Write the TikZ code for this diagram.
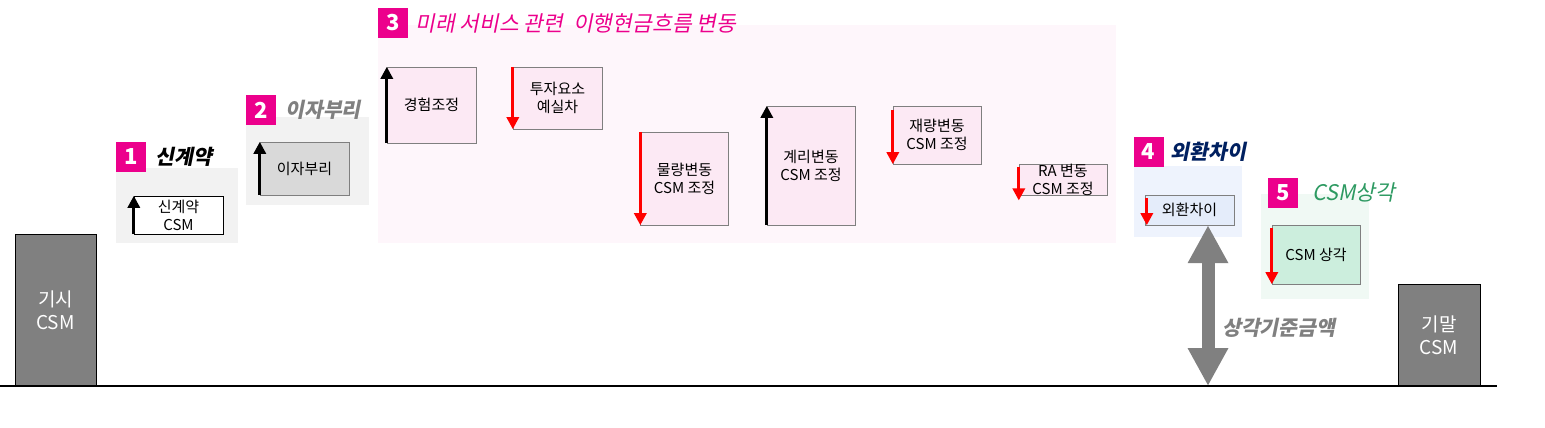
\documentclass[tikz,border=0pt]{standalone}
\usepackage{fontspec}
\setmainfont{Noto Sans CJK KR}
\newfontfamily\slfont[FakeSlant=0.2]{Noto Sans CJK KR}
\usetikzlibrary{arrows.meta,positioning}
\definecolor{Ink}{HTML}{000000}
\definecolor{Mag}{HTML}{EC008C}
\definecolor{Grey}{HTML}{808080}
\definecolor{Frame}{HTML}{7F7F7F}
\definecolor{Navy}{HTML}{002060}
\definecolor{Leaf}{HTML}{2E9A62}
\definecolor{Red}{HTML}{FF0000}
\definecolor{Pale}{HTML}{F2F2F2}
\definecolor{Mid}{HTML}{D9D9D9}
\definecolor{PinkBg}{HTML}{FEF6FB}
\definecolor{Pink}{HTML}{FCE9F4}
\definecolor{BlueBg}{HTML}{EEF3FD}
\definecolor{Blue}{HTML}{E4ECFA}
\definecolor{GreenBg}{HTML}{F0F9F4}
\definecolor{Green}{HTML}{CCEEDD}

\begin{document}
\begin{tikzpicture}[x=1pt,y=-1pt, bg/.style={inner sep=0},
    b/.style={draw=Frame,inner sep=0,align=center,font=\fontsize{15}{18}\selectfont},
    cs/.style={draw=Ink,fill=Grey,text=white,inner sep=0,align=center,font=\fontsize{19}{23}\selectfont},
    sq/.style={fill=Mag,text=white,minimum size=30pt,inner sep=0,font=\fontsize{22}{22}\selectfont\bfseries},
    tl/.style={inner sep=0,font=\slfont\fontsize{21.5}{22}\selectfont},
    tlb/.style={inner sep=0,font=\slfont\bfseries\fontsize{20.5}{21}\selectfont},
    up/.style={-{Triangle[length=12pt,width=12pt]},line width=3pt}, dn/.style={up,Red}]
  \useasboundingbox (0,0) rectangle (1545,428);
  % backgrounds
  \node[bg,fill=Pale,minimum width=122pt,minimum height=75pt] (g1) at (177,205.5) {};
  \node[bg,fill=Pale,minimum width=123pt,minimum height=88pt] (g2) at (307.5,161) {};
  \node[bg,fill=PinkBg,minimum width=738pt,minimum height=218pt] (g3) at (747,134) {};
  \node[bg,fill=BlueBg,minimum width=108pt,minimum height=71pt] (g4) at (1188,201.5) {};
  \node[bg,fill=GreenBg,minimum width=108pt,minimum height=105pt] (g5) at (1315,246.5) {};
  % titles
  \node[sq] (s1) at (131,157) {1}; \node[tlb,right=9pt of s1] (t1) {신계약};
  \node[sq] (s2) at (261,110) {2}; \node[tlb,text=Grey,right=9pt of s2] (t2) {이자부리};
  \node[sq] (s3) at (393,23) {3}; \node[tl,text=Mag,right=7pt of s3] (t3) {미래 서비스 관련 \ 이행현금흐름 변동};
  \node[sq] (s4) at (1148.5,151.5) {4}; \node[tlb,text=Navy,right=7pt of s4] (t4) {외환차이};
  \node[sq] (s5) at (1283,192.5) {5}; \node[tl,text=Leaf,right=14pt of s5] (t5) {CSM상각};
  % CSM
  \node[cs,minimum width=81pt,minimum height=152pt] (open) at (55.5,310) {기시\\CSM};
  \node[cs,minimum width=82pt,minimum height=102pt] (close) at (1439,335) {기말\\CSM};
  % movements
  \node[b,draw=Ink,fill=white,minimum width=89pt,minimum height=38pt] (nb) at (178.5,215) {신계약\\CSM};
  \node[b,fill=Mid,minimum width=89pt,minimum height=53pt] (ir) at (304.5,168.5) {이자부리};
  \node[b,fill=Pink,minimum width=89pt,minimum height=76pt] (ex) at (431.5,105) {경험조정};
  \node[b,fill=Pink,minimum width=89pt,minimum height=62pt] (iv) at (557.5,98) {투자요소\\예실차};
  \node[b,fill=Pink,minimum width=88pt,minimum height=93pt] (vol) at (684.5,178.5) {물량변동\\CSM 조정};
  \node[b,fill=Pink,minimum width=88pt,minimum height=119pt] (act) at (811,165.5) {계리변동\\CSM 조정};
  \node[b,fill=Pink,minimum width=88pt,minimum height=58pt] (dis) at (937,135) {재량변동\\CSM 조정};
  \node[b,fill=Pink,minimum width=88pt,minimum height=31pt] (ra) at (1063,179.5) {RA 변동\\CSM 조정};
  \node[b,fill=Blue,minimum width=89pt,minimum height=30pt] (fx) at (1189.5,210) {외환차이};
  \node[b,fill=Green,minimum width=88pt,minimum height=59pt] (am) at (1316,254.5) {CSM 상각};
  \draw[up](nb.south west)--(nb.north west); \draw[up](ir.south west)--(ir.north west);
  \draw[up](ex.south west)--(ex.north west); \draw[dn](iv.north west)--(iv.south west);
  \draw[dn](vol.north west)--(vol.south west); \draw[up](act.south west)--(act.north west);
  \draw[dn]([yshift=-4pt]dis.north west)--(dis.south west);
  \draw[dn]([yshift=-3pt]ra.north west)--([yshift=-5pt]ra.south west);
  \draw[dn]([shift={(2pt,-3pt)}]fx.north west)--([xshift=2pt]fx.south west);
  \draw[dn]([yshift=-3pt]am.north west)--(am.south west);
  % amortisation base
  \coordinate (L) at (0,386); \coordinate (R) at (1497,386); \coordinate (amt) at (1208,386);
  \draw[Grey,line width=13pt,{Triangle[length=38pt,width=38pt]}-{Triangle[length=38pt,width=38pt]}] (amt |- fx.south)--(amt);
  \node[tlb,text=Grey,anchor=west] (base) at (1222,328) {상각기준금액};
  \draw[line width=2pt](L)--(R);
\end{tikzpicture}
\end{document}
